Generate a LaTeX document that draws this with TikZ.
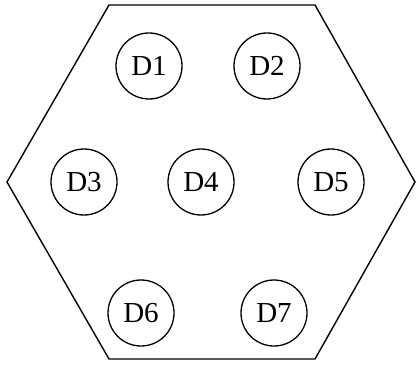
\documentclass[tikz,border=0pt]{standalone}
\usepackage{fontspec}
\setmainfont{Liberation Serif}
\begin{document}
\begin{tikzpicture}[x=1pt,y=-1pt,
  disk/.style={draw, circle, minimum size=66pt, inner sep=0pt, line width=1.3pt, font=\fontsize{29}{30}\selectfont},
  hexline/.style={draw, line width=1.4pt, line join=miter}]
\useasboundingbox (0,0) rectangle (417,366);
\coordinate (h1) at (109,5);
\coordinate (h2) at (315,5);
\coordinate (h3) at (415,182);
\coordinate (h4) at (315,359);
\coordinate (h5) at (109,359);
\coordinate (h6) at (7,182);
\draw[hexline] (h1) -- (h2) -- (h3) -- (h4) -- (h5) -- (h6) -- cycle;
\node[disk] (d1) at (149,66) {D1};
\node[disk] (d2) at (267,66) {D2};
\node[disk] (d3) at (84,182) {D3};
\node[disk] (d4) at (201,182) {D4};
\node[disk] (d5) at (331,182) {D5};
\node[disk] (d6) at (141,313) {D6};
\node[disk] (d7) at (274,313) {D7};
\end{tikzpicture}
\end{document}
